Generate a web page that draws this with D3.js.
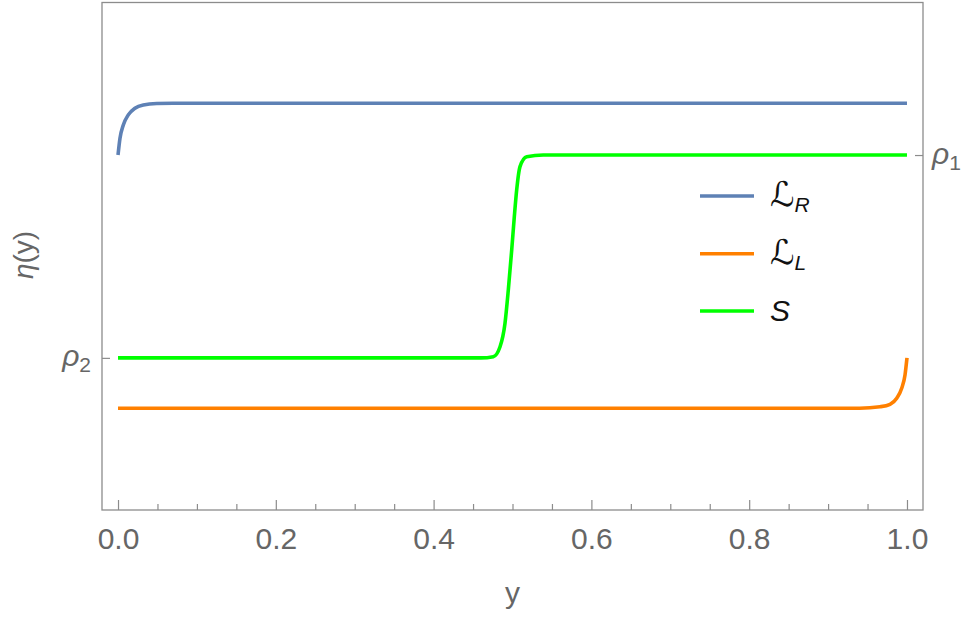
<!DOCTYPE html>
<html>
<head>
<meta charset="utf-8">
<script src="https://cdn.jsdelivr.net/npm/d3@7"></script>
<style>
  body { margin: 0; background: #fff; }
  svg { display: block; font-family: "Liberation Sans", Arial, sans-serif; }
  .frame { fill: none; stroke: #8c8c8c; stroke-width: 1.3; }
  .tick line { stroke: #8c8c8c; stroke-width: 1.2; }
  .tick text { fill: #666; }
</style>
</head>
<body>
<svg id="chart"></svg>
<script>
// values
var rho1 = 2.0;
var rho2 = 1.0;
var xMajor = [0, 0.2, 0.4, 0.6, 0.8, 1.0];
var xMinor = [0.05, 0.1, 0.15, 0.25, 0.3, 0.35, 0.45, 0.5, 0.55, 0.65, 0.7, 0.75, 0.85, 0.9, 0.95];

var seriesLR = [[0, 2.0], [0.0025, 2.083], [0.0067, 2.148], [0.013, 2.198], [0.0215, 2.231],
    [0.032, 2.247], [0.049, 2.254], [0.07, 2.255], [1, 2.255]];
var seriesLL = [[0, 0.752], [0.94, 0.752], [0.9658, 0.759], [0.9785, 0.771], [0.987, 0.801],
    [0.9933, 0.85], [0.9975, 0.916], [1, 1.0]];
var seriesS = [[0, 1.0], [0.46, 1.0], [0.4757, 1.006], [0.4842, 1.055], [0.4905, 1.171],
    [0.4947, 1.335], [0.499, 1.532], [0.5023, 1.696], [0.5053, 1.828], [0.5095, 1.943],
    [0.518, 1.992], [0.539, 2.0], [1, 2.0]];

var colors = { LR: "#5e81b5", LL: "#ff8000", S: "#00ff00" };

var width = 968;
var height = 621;

var svg = d3.select('#chart')
    .attr("width", width)
    .attr("height", height);

var x = d3.scaleLinear().domain([-0.0203, 1.0203]).range([102, 923]);
var y = d3.scaleLinear().domain([0.25, 2.752]).range([510, 2.5]);

// frame
svg.append("rect")
    .classed("frame", true)
    .attr("x", x.range()[0])
    .attr("y", y.range()[1])
    .attr("width", x.range()[1] - x.range()[0])
    .attr("height", y.range()[0] - y.range()[1]);

// bottom axis, ticks pointing inward
var xAxis = svg.append("g")
    .attr("transform", "translate(0," + y.range()[0] + ")")
    .call(d3.axisBottom(x).tickValues(xMajor).tickSize(-10).tickPadding(18)
        .tickFormat(d3.format(".1f")));
xAxis.select(".domain").remove();
xAxis.selectAll(".tick text").style("font-size", "30px");

var xMinorAxis = svg.append("g")
    .attr("transform", "translate(0," + y.range()[0] + ")")
    .call(d3.axisBottom(x).tickValues(xMinor).tickSize(-6).tickFormat(""));
xMinorAxis.select(".domain").remove();

// left axis: rho2
var yLeft = svg.append("g")
    .attr("transform", "translate(" + x.range()[0] + ",0)")
    .call(d3.axisLeft(y).tickValues([rho2]).tickSize(-8).tickPadding(11).tickFormat(""));
yLeft.select(".domain").remove();

// right axis: rho1
var yRight = svg.append("g")
    .attr("transform", "translate(" + x.range()[1] + ",0)")
    .call(d3.axisRight(y).tickValues([rho1]).tickSize(-8).tickFormat(""));
yRight.select(".domain").remove();

function rhoLabel(g, sub, xPos, anchor) {
    var t = g.append("text")
        .attr("x", xPos)
        .attr("y", 8)
        .attr("text-anchor", anchor)
        .attr("fill", "#666")
        .style("font-size", "30px");
    t.append("tspan").style("font-style", "italic").text("ρ");
    t.append("tspan").attr("dy", 6).style("font-size", "21px").text(sub);
}
rhoLabel(yLeft.select(".tick"), "2", -11, "end");
rhoLabel(yRight.select(".tick"), "1", 9, "start");

// curves
var line = d3.line()
    .x(d => x(d[0]))
    .y(d => y(d[1]))
    .curve(d3.curveMonotoneX);

var series = [
    { key: "LR", data: seriesLR },
    { key: "LL", data: seriesLL },
    { key: "S", data: seriesS }
];

svg.selectAll(".curve")
    .data(series)
    .enter()
    .append("path")
    .classed("curve", true)
    .attr("d", d => line(d.data))
    .attr("fill", "none")
    .attr("stroke", d => colors[d.key])
    .attr("stroke-width", 3.6);

// legend
var legendItems = [
    { key: "LR", main: "ℒ", sub: "R", font: "'DejaVu Sans', sans-serif", size: 34, italic: false },
    { key: "LL", main: "ℒ", sub: "L", font: "'DejaVu Sans', sans-serif", size: 34, italic: false },
    { key: "S", main: "S", sub: "", font: "'Liberation Sans', sans-serif", size: 30, italic: true }
];
var legendY = [196, 253.7, 311];

var legend = svg.selectAll(".legend")
    .data(legendItems)
    .enter()
    .append("g")
    .classed("legend", true)
    .attr("transform", (d, i) => "translate(700," + legendY[i] + ")");

legend.append("line")
    .attr("x1", 0)
    .attr("x2", 54)
    .attr("stroke", d => colors[d.key])
    .attr("stroke-width", 3.6);

var legendText = legend.append("text")
    .attr("x", 70)
    .attr("y", 10)
    .attr("fill", "#111");
legendText.append("tspan")
    .style("font-family", d => d.font)
    .style("font-size", d => d.size + "px")
    .style("font-style", d => d.italic ? "italic" : "normal")
    .text(d => d.main);
legendText.append("tspan")
    .attr("dy", 6)
    .style("font-family", "'Liberation Sans', sans-serif")
    .style("font-size", "21px")
    .style("font-style", "italic")
    .text(d => d.sub);

// axis titles
svg.append("text")
    .attr("x", (x(0) + x(1)) / 2)
    .attr("y", 603)
    .attr("text-anchor", "middle")
    .attr("fill", "#666")
    .style("font-size", "30px")
    .text("y");

var yTitle = svg.append("text")
    .attr("transform", "translate(33,255) rotate(-90)")
    .attr("text-anchor", "middle")
    .attr("fill", "#666")
    .style("font-size", "28px");
yTitle.append("tspan").style("font-style", "italic").text("η");
yTitle.append("tspan").text("(y)");
</script>
</body>
</html>
